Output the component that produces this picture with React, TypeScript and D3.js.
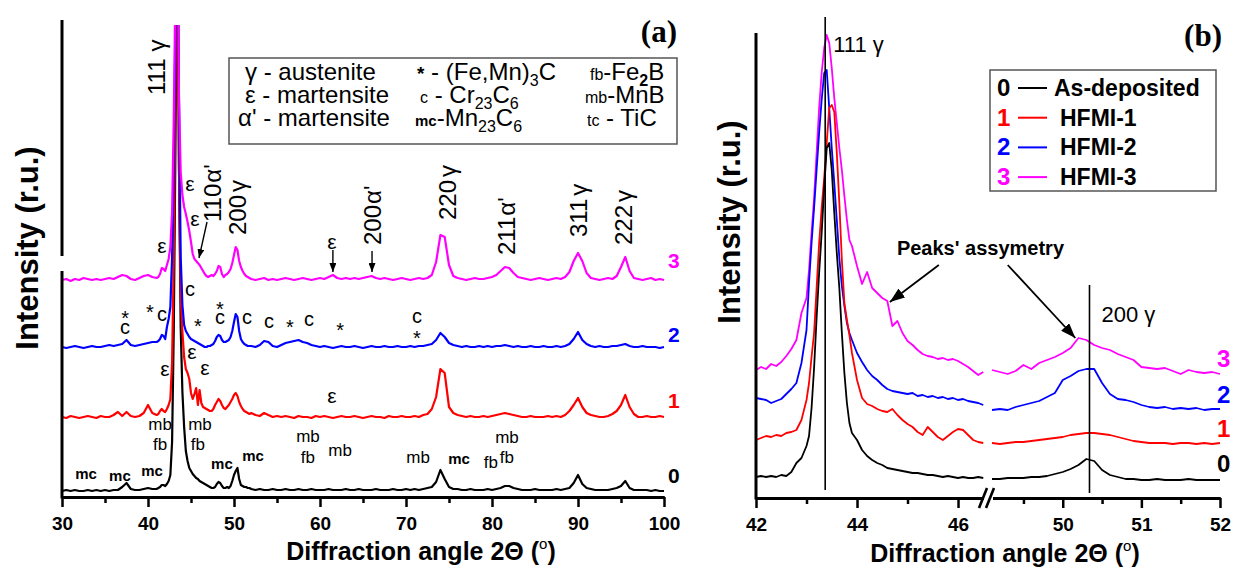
import React, { useEffect, useRef } from 'react';
import * as d3 from 'd3';

const W = 1255;
const H = 580;
const SANS = '"Liberation Sans", Arial, Helvetica, sans-serif';
const SERIF = '"Liberation Serif", "Times New Roman", serif';

const SAMPLE_IDS = ['0', '1', '2', '3'];
const SAMPLE_NAMES = ['As-deposited', 'HFMI-1', 'HFMI-2', 'HFMI-3'];
const SAMPLE_COLORS = ['#000000', '#ff0000', '#0000ff', '#ff00ff'];

// ---------- (a) full scans 30-100 deg, stacked intensity (r.u.) ----------
const ANGLES_A: number[] = [
  ...d3.range(22).map((i) => 30 + i * 0.5),
  ...d3.range(55).map((i) => 41 + i * 0.2),
  ...d3.range(97).map((i) => 52 + i * 0.5),
];

const SCAN_A0 = [
  6, 7, 6, 7, 6, 6, 7, 6, 7, 6, 7, 6, 7, 7, 10, 14, 8, 7, 7, 8, 9, 8,
  8, 9, 10, 12, 12, 11, 13, 16, 22, 55,
  170, 360, 600, 330, 170, 105, 70, 46, 36, 29,
  26, 23, 21, 19, 18, 16, 15, 14, 13, 12,
  11, 10, 9, 9, 10, 13, 15, 14, 11, 9,
  9, 10, 9, 11, 16, 22, 26, 29, 18, 12,
  11, 10, 10, 9, 9,
  8, 7, 8, 7, 7, 8, 7, 7, 8, 7,
  7, 8, 7, 7, 8, 7, 7, 7, 8, 7,
  7, 7, 8, 7, 7, 8, 7, 7, 7, 8,
  7, 7, 7, 8, 7, 7, 8, 7, 8, 7,
  8, 9, 10, 15, 27, 18, 10, 8, 8, 7,
  7, 8, 7, 7, 7, 8, 7, 8, 9, 11,
  11, 9, 8, 7, 7, 7, 8, 7, 7, 7,
  7, 8, 7, 8, 9, 14, 22, 13, 9, 8,
  7, 7, 7, 7, 8, 9, 11, 16, 9, 7,
  7, 7, 7, 6, 7, 6, 6,
];
const SCAN_A1 = [
  80, 79, 81, 80, 79, 80, 81, 80, 79, 81, 80, 80, 82, 85, 81, 85, 81, 80, 81, 84, 92, 84,
  82, 83, 86, 88, 86, 85, 88, 92, 98, 135,
  240, 430, 600, 330, 200, 165, 140, 128, 124, 118,
  104, 98, 103, 109, 92, 107, 94, 90, 89, 88,
  87, 86, 86, 88, 92, 95, 98, 96, 92, 89,
  88, 90, 92, 95, 98, 102, 104, 101, 95, 91,
  88, 86, 85, 84, 83,
  84, 82, 81, 84, 82, 80, 81, 80, 81, 80,
  79, 81, 80, 80, 79, 81, 80, 81, 80, 79,
  80, 81, 80, 80, 81, 80, 79, 80, 81, 80,
  80, 79, 81, 80, 80, 81, 80, 80, 81, 80,
  82, 83, 88, 100, 128, 124, 90, 84, 82, 81,
  80, 81, 80, 80, 81, 80, 81, 82, 83, 84,
  83, 82, 81, 80, 80, 81, 80, 80, 80, 81,
  80, 81, 80, 82, 86, 92, 99, 90, 84, 82,
  81, 80, 80, 81, 83, 86, 92, 102, 90, 83,
  80, 80, 81, 80, 80, 81, 80,
];
const SCAN_A2 = [
  150, 149, 150, 151, 150, 149, 150, 151, 150, 150, 151, 152, 151, 152, 153, 157, 152, 151, 152, 153, 154, 155,
  155, 156, 158, 162, 161, 158, 170, 178, 190, 240,
  330, 480, 600, 400, 240, 192, 172, 166, 163, 160,
  158, 157, 156, 155, 154, 153, 152, 151, 150, 150,
  151, 151, 152, 153, 156, 160, 162, 161, 157, 155,
  155, 156, 157, 160, 166, 175, 183, 180, 166, 158,
  155, 153, 152, 151, 151,
  151, 150, 152, 156, 155, 151, 150, 152, 154, 155,
  156, 157, 155, 154, 152, 151, 150, 151, 150, 149,
  150, 151, 150, 150, 151, 150, 149, 150, 151, 150,
  150, 151, 150, 150, 151, 150, 150, 151, 150, 151,
  151, 152, 153, 157, 164, 160, 154, 152, 151, 150,
  151, 150, 150, 151, 150, 151, 150, 151, 151, 152,
  151, 150, 151, 150, 150, 151, 150, 150, 151, 150,
  150, 151, 150, 151, 153, 158, 165, 157, 153, 151,
  150, 151, 150, 150, 151, 151, 152, 153, 151, 150,
  150, 151, 150, 150, 150, 149, 150,
];
const SCAN_A3 = [
  217, 218, 216, 218, 217, 219, 218, 217, 218, 217, 218, 219, 218, 220, 222, 221, 218, 217, 219, 221, 222, 220,
  219, 220, 223, 229, 228, 226, 232, 238, 250, 285,
  380, 520, 650, 400, 325, 302, 290, 283, 275, 266,
  255, 243, 238, 236, 234, 232, 229, 226, 223, 221,
  220, 221, 222, 221, 223, 226, 231, 230, 223, 220,
  222, 223, 225, 228, 234, 242, 250, 247, 236, 230,
  226, 223, 221, 220, 219,
  218, 217, 218, 219, 217, 218, 217, 218, 219, 218,
  217, 218, 219, 218, 217, 218, 219, 218, 220, 222,
  219, 218, 219, 218, 219, 218, 219, 220, 221, 219,
  218, 219, 218, 217, 218, 219, 218, 217, 218, 219,
  218, 219, 222, 235, 262, 260, 232, 221, 219, 218,
  217, 218, 219, 218, 218, 219, 220, 222, 226, 230,
  229, 224, 220, 219, 218, 217, 218, 219, 218, 217,
  218, 219, 218, 220, 225, 236, 244, 236, 224, 219,
  218, 217, 218, 219, 218, 221, 230, 240, 226, 219,
  218, 217, 218, 219, 217, 218, 217,
];
const SCANS_A = [SCAN_A0, SCAN_A1, SCAN_A2, SCAN_A3];
const END_LABEL_LEVEL_A = [14, 89, 155, 229];

// reflections, rotated labels
const PEAKS_A = [
  { hkl: '111', phase: 'γ', gap: 7, at: 41.98, h: 402 },
  { hkl: '110', phase: "α'", gap: 1, at: 48.49, h: 275 },
  { hkl: '200', phase: 'γ', gap: 3, at: 51.4, h: 262 },
  { hkl: '200', phase: "α'", gap: 1, at: 67.1, h: 252 },
  { hkl: '220', phase: 'γ', gap: 3, at: 75.8, h: 277 },
  { hkl: '211', phase: "α'", gap: 1, at: 82.7, h: 242 },
  { hkl: '311', phase: 'γ', gap: 3, at: 91.05, h: 260 },
  { hkl: '222', phase: 'γ', gap: 3, at: 96.3, h: 252 },
];
const EPSILON_MARKS = [[41.63, 250], [44.88, 312], [45.47, 277], [61.4, 254], [41.98, 127], [45.12, 144], [46.63, 128], [61.4, 100]];
const CR23C6_MARKS = [[44.88, 207], [37.33, 169], [41.63, 182], [48.37, 179], [51.51, 179], [54.07, 175], [58.72, 177], [71.28, 180]];
const FE3C_MARKS = [[37.33, 184], [40.23, 190], [45.81, 176], [48.37, 193], [56.51, 175], [62.33, 172], [71.28, 164]];
const MNB_MARKS = [[41.4, 73], [46.05, 73], [58.6, 61], [62.33, 47], [71.4, 40], [81.74, 60]];
const FE2B_MARKS = [[41.4, 53], [45.81, 53], [58.6, 40], [79.88, 35], [81.74, 40]];
const MN23C6_MARKS = [[32.79, 23], [36.74, 21], [40.47, 26], [48.6, 33], [52.21, 41], [76.16, 38]];
const ARROWS_A = [
  [[46.86, 275], [45.93, 239]],
  [[61.5, 247], [61.5, 225]],
  [[66.05, 246], [66.05, 225]],
];

// ---------- (b) 111 and 200 austenite reflections ----------
const ANGLES_B_LEFT: number[] = [
  ...d3.range(10).map((i) => 42 + i * 0.1),
  ...d3.range(18).map((i) => 43 + i * 0.05),
  ...d3.range(27).map((i) => 43.9 + i * 0.1),
];
const ANGLES_B_RIGHT: number[] = d3.range(30).map((i) => 49.1 + i * 0.1);

const SCAN_B0_LEFT = [21, 22, 21, 22, 21, 23, 22, 26, 35, 40, 52, 62, 90, 130, 180, 225, 265, 310, 350, 355, 328, 285, 245, 210, 165, 125, 95, 75, 65, 58, 48, 42, 38, 35, 33, 30, 29, 28, 27, 26, 25, 25, 24, 23, 23, 22, 21, 22, 21, 20, 21, 20, 20, 21, 20];
const SCAN_B1_LEFT = [58, 60, 62, 61, 63, 62, 65, 66, 68, 78, 98, 115, 141, 165, 210, 255, 290, 320, 355, 390, 393, 386, 345, 295, 238, 195, 178, 163, 145, 118, 100, 94, 92, 89, 87, 86, 89, 83, 78, 74, 71, 66, 63, 71, 66, 61, 58, 62, 66, 69, 68, 63, 58, 56, 55];
const SCAN_B2_LEFT = [100, 99, 98, 95, 97, 99, 104, 109, 115, 135, 168, 215, 255, 290, 328, 365, 398, 425, 428, 390, 350, 315, 278, 240, 212, 192, 175, 165, 158, 145, 136, 128, 122, 118, 113, 109, 107, 106, 105, 104, 105, 102, 103, 101, 102, 100, 101, 99, 100, 98, 99, 97, 96, 95, 93];
const SCAN_B3_LEFT = [128, 131, 129, 134, 132, 136, 142, 149, 158, 185, 200, 228, 265, 300, 345, 390, 425, 450, 463, 455, 430, 400, 375, 350, 328, 302, 278, 258, 252, 232, 214, 226, 210, 205, 200, 197, 172, 177, 165, 157, 153, 148, 144, 142, 141, 139, 140, 138, 139, 137, 134, 131, 127, 123, 126];

const SCAN_B0_RIGHT = [19, 19, 20, 20, 20, 21, 21, 22, 24, 26, 29, 33, 39, 37, 28, 23, 21, 19, 19, 18, 18, 19, 18, 18, 18, 19, 18, 18, 18, 18];
const SCAN_B1_RIGHT = [55, 54, 55, 56, 56, 57, 58, 59, 60, 61, 63, 64, 65, 65, 64, 63, 61, 59, 57, 56, 55, 55, 55, 54, 55, 55, 54, 55, 54, 55];
const SCAN_B2_RIGHT = [88, 89, 88, 91, 93, 95, 97, 101, 105, 118, 122, 127, 129, 129, 115, 104, 99, 98, 96, 93, 91, 90, 91, 89, 90, 89, 90, 88, 89, 89];
const SCAN_B3_RIGHT = [128, 126, 124, 127, 133, 129, 135, 138, 141, 145, 150, 160, 158, 153, 150, 148, 144, 141, 138, 131, 130, 129, 130, 127, 124, 128, 126, 125, 126, 124];

const SCANS_B_LEFT = [SCAN_B0_LEFT, SCAN_B1_LEFT, SCAN_B2_LEFT, SCAN_B3_LEFT];
const SCANS_B_RIGHT = [SCAN_B0_RIGHT, SCAN_B1_RIGHT, SCAN_B2_RIGHT, SCAN_B3_RIGHT];
const END_LABEL_LEVEL_B = [26, 61, 95, 131];

const MARKERS_B = [
  { hkl: '111', angle: 43.37, top: 481, bottom: 8, labelH: 446, dx: 8 },
  { hkl: '200', angle: 50.34, top: 213, bottom: 5, labelH: 176, dx: 12 },
];

type Part = { t: string; size?: number; bold?: boolean; shift?: number; dx?: number };

// phase key of panel (a): three columns x three rows
const PHASE_KEY: Part[][][] = [
  [
    [{ t: 'γ - austenite' }],
    [{ t: 'ε - martensite' }],
    [{ t: "α' - martensite" }],
  ],
  [
    [{ t: '*', bold: true, size: 19 }, { t: ' - (Fe,Mn)' }, { t: '3', size: 16, shift: 6 }, { t: 'C', shift: 0 }],
    [{ t: 'c', size: 16 }, { t: ' - Cr' }, { t: '23', size: 16, shift: 6 }, { t: 'C', shift: 0 }, { t: '6', size: 16, shift: 6 }],
    [{ t: 'mc', size: 15, bold: true }, { t: '-Mn' }, { t: '23', size: 16, shift: 6 }, { t: 'C', shift: 0 }, { t: '6', size: 16, shift: 6 }],
  ],
  [
    [{ t: 'fb', size: 16 }, { t: '-Fe' }, { t: '2', size: 16, shift: 6, bold: true }, { t: 'B', shift: 0 }],
    [{ t: 'mb', size: 16 }, { t: '-MnB' }],
    [{ t: 'tc', size: 16 }, { t: ' - TiC' }],
  ],
];

type Sel = d3.Selection<any, any, any, any>;

function addRich(parent: Sel, x: number, y: number, parts: Part[], size: number, bold = false, anchor = 'start', fill = '#000') {
  const text = parent
    .append('text')
    .attr('x', x)
    .attr('y', y)
    .attr('text-anchor', anchor)
    .attr('fill', fill)
    .style('font-family', SANS)
    .style('font-size', `${size}px`)
    .style('font-weight', bold ? 'bold' : 'normal');
  let cur = 0;
  parts.forEach((p) => {
    const target = p.shift ?? cur;
    const span = text.append('tspan').attr('dy', target - cur).text(p.t);
    if (p.dx) span.attr('dx', p.dx);
    if (p.size) span.style('font-size', `${p.size}px`);
    if (p.bold !== undefined) span.style('font-weight', p.bold ? 'bold' : 'normal');
    cur = target;
  });
  return text;
}

function styleAxis(ax: Sel, labelled: boolean) {
  ax.attr('font-family', SANS).attr('font-size', 19).attr('font-weight', 'bold');
  ax.select('.domain').attr('stroke', '#000').attr('stroke-width', 3);
  ax.selectAll('.tick line').attr('stroke', '#000').attr('stroke-width', 2.5);
  if (labelled) ax.selectAll('.tick text').attr('y', 20).attr('fill', '#000');
}

const App: React.FC = () => {
  const svgRef = useRef<SVGSVGElement>(null);

  useEffect(() => {
    if (!svgRef.current) return;
    const svg = d3.select(svgRef.current);
    svg.selectAll('*').remove();

    const defs = svg.append('defs');
    const addHead = (id: string, len: number, wid: number) => {
      defs
        .append('marker')
        .attr('id', id)
        .attr('viewBox', `0 0 ${len} ${wid}`)
        .attr('refX', len)
        .attr('refY', wid / 2)
        .attr('markerWidth', len)
        .attr('markerHeight', wid)
        .attr('markerUnits', 'userSpaceOnUse')
        .attr('orient', 'auto')
        .append('path')
        .attr('d', `M0,0L${len},${wid / 2}L0,${wid}Z`)
        .attr('fill', '#000');
    };
    addHead('head-a', 9, 7);
    addHead('head-b', 15, 11);

    svg.append('rect').attr('width', W).attr('height', H).attr('fill', '#fff');

    // ================= panel (a) =================
    const xA = d3.scaleLinear().domain([30, 100]).range([62, 664]);
    const yA = d3.scaleLinear().domain([0, 480]).range([497, 17]);

    defs
      .append('clipPath')
      .attr('id', 'clip-a')
      .append('rect')
      .attr('x', 60)
      .attr('y', 25)
      .attr('width', 610)
      .attr('height', 475);

    const lineA = d3
      .line<number>()
      .x((_, i) => xA(ANGLES_A[i]))
      .y((d) => yA(d));
    const scansA = svg.append('g').attr('clip-path', 'url(#clip-a)');
    SCANS_A.forEach((scan, k) => {
      scansA
        .append('path')
        .attr('d', lineA(scan))
        .attr('fill', 'none')
        .attr('stroke', SAMPLE_COLORS[k])
        .attr('stroke-width', 2.2)
        .attr('stroke-linejoin', 'round');
    });

    // axes (a)
    const axA = svg
      .append('g')
      .attr('transform', `translate(0,${yA(0)})`)
      .call(d3.axisBottom(xA).tickValues(d3.range(30, 101, 10)).tickSize(10).tickSizeOuter(0).tickFormat(d3.format('d')));
    styleAxis(axA, true);
    const axAminor = svg
      .append('g')
      .attr('transform', `translate(0,${yA(0)})`)
      .call(d3.axisBottom(xA).tickValues(d3.range(35, 100, 10)).tickSize(6).tickSizeOuter(0).tickFormat(() => ''));
    styleAxis(axAminor, false);

    // broken intensity axis
    svg.append('line').attr('x1', 62).attr('x2', 62).attr('y1', 20).attr('y2', 256).attr('stroke', '#000').attr('stroke-width', 3);
    svg.append('line').attr('x1', 62).attr('x2', 62).attr('y1', 271).attr('y2', yA(0) + 1.5).attr('stroke', '#000').attr('stroke-width', 3);

    svg
      .append('text')
      .attr('transform', 'translate(38,248) rotate(-90)')
      .attr('text-anchor', 'middle')
      .style('font-family', SANS)
      .style('font-size', '31px')
      .style('font-weight', 'bold')
      .text('Intensity (r.u.)');

    addRich(svg, 421, 560, [{ t: 'Diffraction angle 2Θ (' }, { t: 'o', size: 15, shift: -11, bold: false }, { t: ')', shift: 0 }], 25, true, 'middle');

    svg
      .append('text')
      .attr('x', 677)
      .attr('y', 42)
      .attr('text-anchor', 'end')
      .style('font-family', SERIF)
      .style('font-size', '31px')
      .style('font-weight', 'bold')
      .text('(a)');

    // phase key
    svg.append('rect').attr('x', 229).attr('y', 58).attr('width', 448).attr('height', 86).attr('fill', 'none').attr('stroke', '#555').attr('stroke-width', 1.5);
    const keyX = [[245, 245, 238], [417, 420, 415], [590, 585, 587]];
    const keyY = [80, 103, 126];
    PHASE_KEY.forEach((col, c) => col.forEach((parts, r) => addRich(svg, keyX[c][r], keyY[r], parts, 24)));

    // reflection labels
    PEAKS_A.forEach((p) => {
      const g = svg.append('g').attr('transform', `translate(${xA(p.at)},${yA(p.h)}) rotate(-90)`);
      addRich(g, 0, 0, [{ t: p.hkl }, { t: p.phase, dx: p.gap }], 24);
    });

    const marks = (list: number[][], label: string, size: number, lift: number, bold = false) =>
      list.forEach(([a, h]) => {
        svg
          .append('text')
          .attr('x', xA(a))
          .attr('y', yA(h) + lift)
          .attr('text-anchor', 'middle')
          .style('font-family', SANS)
          .style('font-size', `${size}px`)
          .style('font-weight', bold ? 'bold' : 'normal')
          .text(label);
      });
    marks(EPSILON_MARKS, 'ε', 21, 6);
    marks(CR23C6_MARKS, 'c', 20, 6);
    marks(FE3C_MARKS, '*', 20, 12);
    marks(MNB_MARKS, 'mb', 17, 6);
    marks(FE2B_MARKS, 'fb', 17, 6);
    marks(MN23C6_MARKS, 'mc', 15, 4.5, true);

    ARROWS_A.forEach(([from, to]) => {
      svg
        .append('line')
        .attr('x1', xA(from[0]))
        .attr('y1', yA(from[1]))
        .attr('x2', xA(to[0]))
        .attr('y2', yA(to[1]))
        .attr('stroke', '#000')
        .attr('stroke-width', 1.4)
        .attr('marker-end', 'url(#head-a)');
    });

    SAMPLE_IDS.forEach((id, k) => {
      svg
        .append('text')
        .attr('x', xA(100) + 4)
        .attr('y', yA(END_LABEL_LEVEL_A[k]))
        .attr('fill', SAMPLE_COLORS[k])
        .style('font-family', SANS)
        .style('font-size', '21px')
        .style('font-weight', 'bold')
        .text(id);
    });

    // ================= panel (b) =================
    const xBL = d3.scaleLinear().domain([42, 46.55]).range([756, 985.8]);
    const xBR = d3.scaleLinear().domain([49.1, 52]).range([992, 1220]);
    const yB = d3.scaleLinear().domain([0, 465]).range([498, 33]);

    const lineBL = d3
      .line<number>()
      .x((_, i) => xBL(ANGLES_B_LEFT[i]))
      .y((d) => yB(d));
    const lineBR = d3
      .line<number>()
      .x((_, i) => xBR(ANGLES_B_RIGHT[i]))
      .y((d) => yB(d));
    [3, 2, 1, 0].forEach((k) => {
      svg.append('path').attr('d', lineBL(SCANS_B_LEFT[k])).attr('fill', 'none').attr('stroke', SAMPLE_COLORS[k]).attr('stroke-width', 1.8).attr('stroke-linejoin', 'round');
      svg.append('path').attr('d', lineBR(SCANS_B_RIGHT[k])).attr('fill', 'none').attr('stroke', SAMPLE_COLORS[k]).attr('stroke-width', 1.8).attr('stroke-linejoin', 'round');
    });

    // 111 / 200 positions
    MARKERS_B.forEach((m, i) => {
      const sx = i === 0 ? xBL : xBR;
      const x = sx(m.angle);
      svg.append('line').attr('x1', x).attr('x2', x).attr('y1', yB(m.top)).attr('y2', yB(m.bottom)).attr('stroke', '#000').attr('stroke-width', 1.6);
      addRich(svg, x + m.dx, yB(m.labelH), [{ t: `${m.hkl} ` }, { t: 'γ' }], 22);
    });

    const axBL = svg
      .append('g')
      .attr('transform', `translate(0,${yB(0)})`)
      .call(d3.axisBottom(xBL).tickValues([42, 44, 46]).tickSize(10).tickSizeOuter(0).tickFormat(d3.format('d')));
    styleAxis(axBL, true);
    const axBLminor = svg
      .append('g')
      .attr('transform', `translate(0,${yB(0)})`)
      .call(d3.axisBottom(xBL).tickValues([43, 45]).tickSize(6).tickSizeOuter(0).tickFormat(() => ''));
    styleAxis(axBLminor, false);
    const axBR = svg
      .append('g')
      .attr('transform', `translate(0,${yB(0)})`)
      .call(d3.axisBottom(xBR).tickValues([50, 51, 52]).tickSize(10).tickSizeOuter(0).tickFormat(d3.format('d')));
    styleAxis(axBR, true);
    const axBRminor = svg
      .append('g')
      .attr('transform', `translate(0,${yB(0)})`)
      .call(d3.axisBottom(xBR).tickValues([49.5, 50.5, 51.5]).tickSize(6).tickSizeOuter(0).tickFormat(() => ''));
    styleAxis(axBRminor, false);

    // axis break marks
    const yb = yB(0);
    svg.append('rect').attr('x', 984).attr('y', yb - 4).attr('width', 9).attr('height', 8).attr('fill', '#fff');
    [[979, 987], [986, 994]].forEach(([a, b]) => {
      svg.append('line').attr('x1', a).attr('y1', yb + 10).attr('x2', b).attr('y2', yb - 10).attr('stroke', '#000').attr('stroke-width', 2.6);
    });

    svg.append('line').attr('x1', 756).attr('x2', 756).attr('y1', yB(465)).attr('y2', yb + 1.5).attr('stroke', '#000').attr('stroke-width', 3);

    svg
      .append('text')
      .attr('transform', 'translate(740,222) rotate(-90)')
      .attr('text-anchor', 'middle')
      .style('font-family', SANS)
      .style('font-size', '31px')
      .style('font-weight', 'bold')
      .text('Intensity (r.u.)');

    addRich(svg, 1005, 562, [{ t: 'Diffraction angle 2Θ (' }, { t: 'o', size: 15, shift: -11, bold: false }, { t: ')', shift: 0 }], 25, true, 'middle');

    svg
      .append('text')
      .attr('x', 1222)
      .attr('y', 46)
      .attr('text-anchor', 'end')
      .style('font-family', SERIF)
      .style('font-size', '31px')
      .style('font-weight', 'bold')
      .text('(b)');

    // sample legend
    svg.append('rect').attr('x', 990).attr('y', 70).attr('width', 226).attr('height', 121).attr('fill', '#fff').attr('stroke', '#555').attr('stroke-width', 1.5);
    SAMPLE_IDS.forEach((id, k) => {
      const by = 96 + k * 29.7;
      svg.append('text').attr('x', 997).attr('y', by).attr('fill', SAMPLE_COLORS[k]).style('font-family', SANS).style('font-size', '24px').style('font-weight', 'bold').text(id);
      svg.append('line').attr('x1', 1018).attr('x2', 1047).attr('y1', by - 8).attr('y2', by - 8).attr('stroke', SAMPLE_COLORS[k]).attr('stroke-width', 2);
      svg.append('text').attr('x', k === 0 ? 1054 : 1060).attr('y', by).attr('fill', '#000').style('font-family', SANS).style('font-size', '23px').style('font-weight', 'bold').text(SAMPLE_NAMES[k]);
    });

    SAMPLE_IDS.forEach((id, k) => {
      svg
        .append('text')
        .attr('x', xBR(52) - 3)
        .attr('y', yB(END_LABEL_LEVEL_B[k]))
        .attr('fill', SAMPLE_COLORS[k])
        .style('font-family', SANS)
        .style('font-size', '24px')
        .style('font-weight', 'bold')
        .text(id);
    });

    // asymmetry note with arrows
    svg
      .append('text')
      .attr('x', xBL(44.79))
      .attr('y', yB(243))
      .style('font-family', SANS)
      .style('font-size', '20px')
      .style('font-weight', 'bold')
      .text("Peaks' assymetry");
    svg.append('line').attr('x1', xBL(45.62)).attr('y1', yB(233)).attr('x2', xBL(44.65)).attr('y2', yB(196)).attr('stroke', '#000').attr('stroke-width', 1.8).attr('marker-end', 'url(#head-b)');
    svg.append('line').attr('x1', xBR(49.3)).attr('y1', yB(233)).attr('x2', xBR(50.16)).attr('y2', yB(160)).attr('stroke', '#000').attr('stroke-width', 1.8).attr('marker-end', 'url(#head-b)');
  }, []);

  return (
    <svg
      ref={svgRef}
      width={W}
      height={H}
      style={{ position: 'absolute', left: 0, top: 0, display: 'block', background: '#fff' }}
    />
  );
};

export default App;
